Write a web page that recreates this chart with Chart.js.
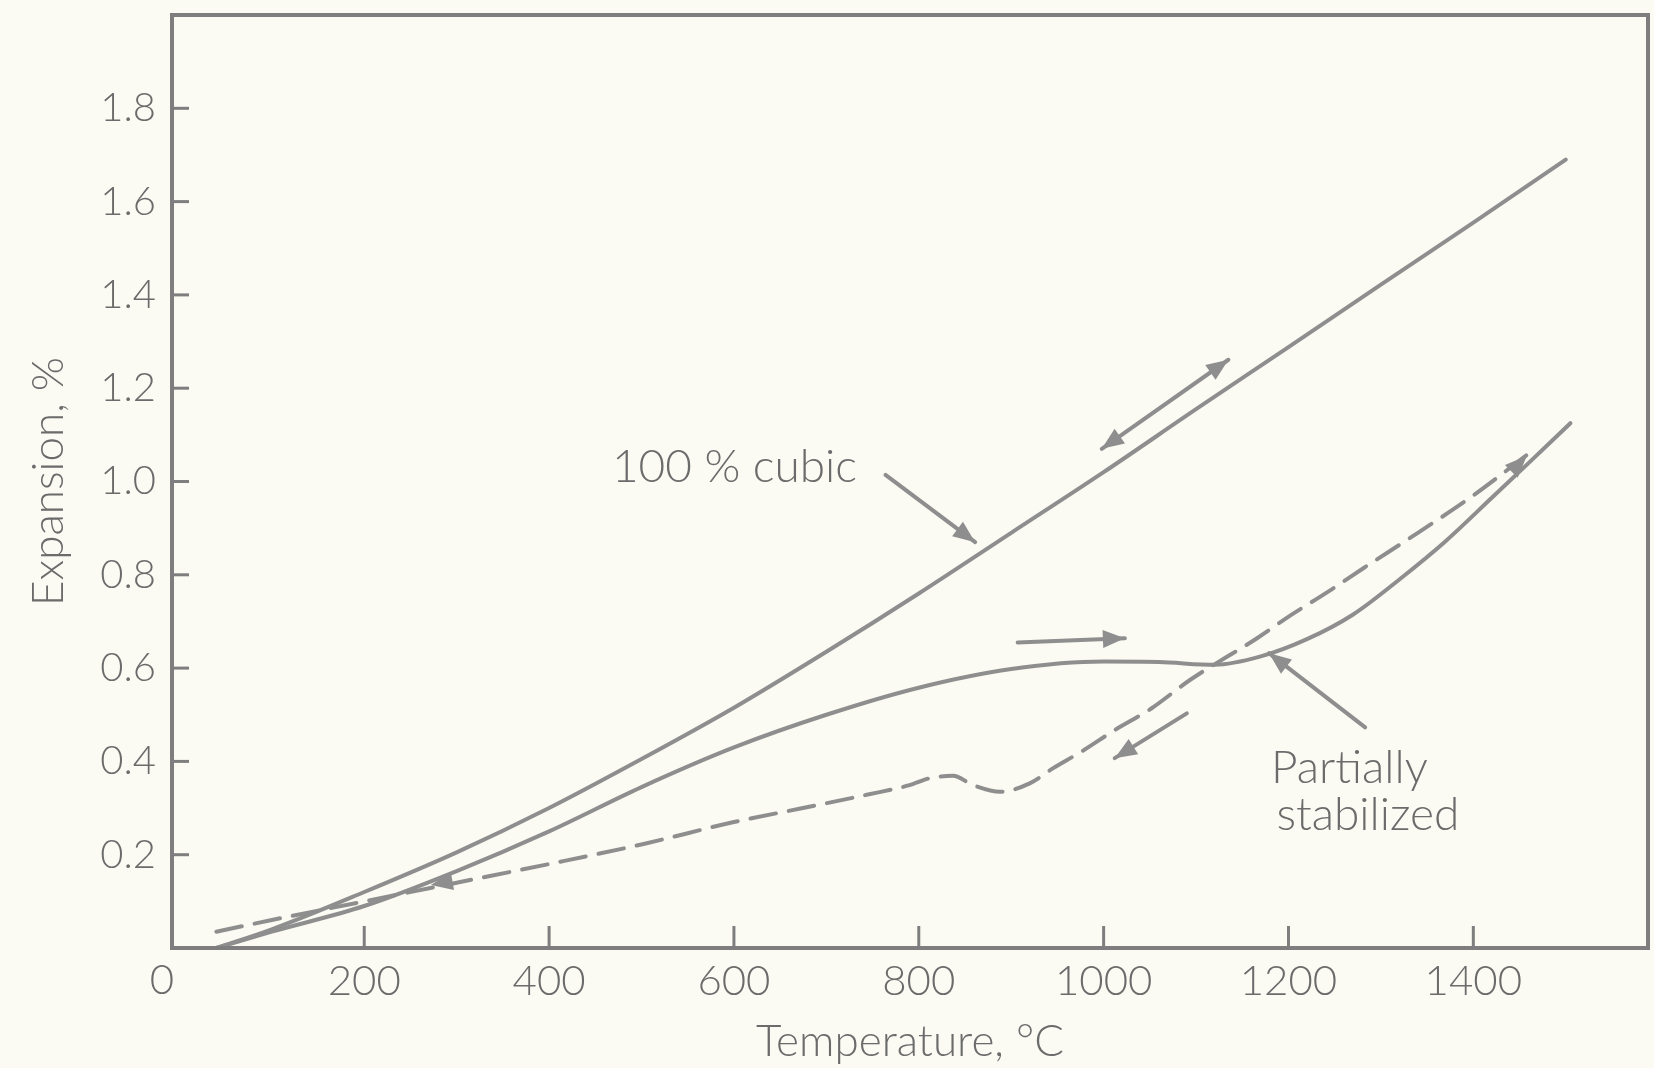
<!DOCTYPE html>
<html>
<head>
<meta charset="utf-8">
<style>
  html, body { margin: 0; padding: 0; background: #fbfbf4; }
  #wrap { width: 1654px; height: 1068px; position: relative; }
</style>
<script src="https://cdn.jsdelivr.net/npm/chart.js@4.4.1/dist/chart.umd.min.js"></script>
</head>
<body>
<div id="wrap"><canvas id="plot"></canvas></div>
<script>
// axis ticks
let xTicks = [200, 400, 600, 800, 1000, 1200, 1400];
let yTicks = [0.2, 0.4, 0.6, 0.8, 1.0, 1.2, 1.4, 1.6, 1.8];

// 100 % cubic (heating and cooling the same)
let cubicT = [40, 100, 200, 300, 400, 500, 600, 700, 800, 900, 1000, 1100, 1200, 1300, 1400, 1500];
let cubicE = [0.0, 0.04, 0.12, 0.205, 0.3, 0.405, 0.515, 0.635, 0.76, 0.89, 1.02, 1.155, 1.288, 1.422, 1.555, 1.69];

// partially stabilized, heating (solid)
let heatT = [40, 100, 200, 300, 400, 500, 600, 700, 800, 900, 1000, 1060, 1120, 1170, 1220, 1270, 1320, 1370, 1420, 1460, 1505];
let heatE = [0.0, 0.035, 0.09, 0.165, 0.25, 0.345, 0.43, 0.5, 0.558, 0.598, 0.614, 0.613, 0.607, 0.625, 0.662, 0.715, 0.79, 0.872, 0.965, 1.04, 1.125];

// partially stabilized, cooling (dashed)
let coolT = [40, 100, 200, 300, 400, 500, 600, 672, 745, 790, 812, 837, 859, 888, 920, 945, 976, 1012, 1052, 1093, 1166, 1203, 1243, 1281, 1340, 1400, 1460];
let coolE = [0.035, 0.06, 0.1, 0.14, 0.18, 0.222, 0.27, 0.299, 0.329, 0.349, 0.364, 0.369, 0.349, 0.335, 0.353, 0.385, 0.421, 0.467, 0.514, 0.574, 0.664, 0.714, 0.764, 0.814, 0.89, 0.97, 1.06];

// arrows: [t1, e1, t2, e2, heads] heads: 1 end, 2 both, 0 head only
let arrows = [
    [998, 1.07, 1135, 1.261, 2],
    [764, 1.014, 861, 0.87, 1],
    [907, 0.655, 1023, 0.664, 1],
    [1090, 0.503, 1012, 0.407, 1],
    [1283, 0.473, 1179, 0.632, 1],
    [1430, 1.0, 1458, 1.055, 0],
    [300, 0.145, 272, 0.135, 0]
];

// text labels: [text, t, e]
let notes = [
    ['100 % cubic', 468, 1.031],
    ['Partially', 1181, 0.386],
    ['stabilized', 1187, 0.285]
];

const INK = '#8e8e8e';
const TEXT = '#6b6b6b';
const FONT = "Lato, 'Open Sans', sans-serif";

function pts(t, e) {
    let out = [];
    for (let i = 0; i < t.length; i++) out.push({ x: t[i], y: e[i] });
    return out;
}

function arrowHead(ctx, x1, y1, x2, y2) {
    let a = Math.atan2(y2 - y1, x2 - x1);
    let len = 22, w = 9;
    ctx.beginPath();
    ctx.moveTo(x2, y2);
    ctx.lineTo(x2 - len * Math.cos(a) + w * Math.sin(a), y2 - len * Math.sin(a) - w * Math.cos(a));
    ctx.lineTo(x2 - len * Math.cos(a) - w * Math.sin(a), y2 - len * Math.sin(a) + w * Math.cos(a));
    ctx.closePath();
    ctx.fill();
}

const paper = {
    id: 'paper',
    beforeDraw(chart) {
        let ctx = chart.ctx;
        ctx.save();
        ctx.fillStyle = '#fbfbf4';
        ctx.fillRect(0, 0, chart.width, chart.height);
        ctx.restore();
    },
    afterDraw(chart) {
        let ctx = chart.ctx;
        let a = chart.chartArea;
        let xs = chart.scales.x, ys = chart.scales.y;
        ctx.save();
        // frame
        ctx.strokeStyle = '#7e7e7e';
        ctx.lineWidth = 4;
        ctx.strokeRect(a.left, a.top, a.right - a.left, a.bottom - a.top);
        // inward tick marks
        ctx.lineWidth = 3;
        xTicks.forEach(function(v) {
            let px = xs.getPixelForValue(v);
            ctx.beginPath(); ctx.moveTo(px, a.bottom); ctx.lineTo(px, a.bottom - 22); ctx.stroke();
        });
        yTicks.forEach(function(v) {
            let py = ys.getPixelForValue(v);
            ctx.beginPath(); ctx.moveTo(a.left, py); ctx.lineTo(a.left + 17, py); ctx.stroke();
        });
        // "0" at the corner
        ctx.fillStyle = TEXT;
        ctx.font = '300 42px ' + FONT;
        ctx.textAlign = 'center';
        ctx.textBaseline = 'middle';
        ctx.fillText('0', a.left - 10, a.bottom + 32);
        // arrows
        ctx.strokeStyle = INK;
        ctx.fillStyle = INK;
        ctx.lineWidth = 4;
        ctx.lineCap = 'round';
        arrows.forEach(function(r) {
            let x1 = xs.getPixelForValue(r[0]), y1 = ys.getPixelForValue(r[1]);
            let x2 = xs.getPixelForValue(r[2]), y2 = ys.getPixelForValue(r[3]);
            if (r[4] > 0) { ctx.beginPath(); ctx.moveTo(x1, y1); ctx.lineTo(x2, y2); ctx.stroke(); }
            arrowHead(ctx, x1, y1, x2, y2);
            if (r[4] === 2) arrowHead(ctx, x2, y2, x1, y1);
        });
        // labels
        ctx.fillStyle = TEXT;
        ctx.font = '300 46px ' + FONT;
        ctx.textAlign = 'left';
        notes.forEach(function(n) {
            ctx.fillText(n[0], xs.getPixelForValue(n[1]), ys.getPixelForValue(n[2]));
        });
        ctx.restore();
    }
};

const line = { borderColor: INK, borderWidth: 4, pointRadius: 0, cubicInterpolationMode: 'monotone', borderCapStyle: 'round', fill: false };

new Chart(document.getElementById('plot').getContext('2d'), {
    type: 'line',
    data: {
        datasets: [
            Object.assign({ label: '100 % cubic', data: pts(cubicT, cubicE) }, line),
            Object.assign({ label: 'Partially stabilized, heating', data: pts(heatT, heatE) }, line),
            Object.assign({ label: 'Partially stabilized, cooling', data: pts(coolT, coolE), borderDash: [26, 13] }, line)
        ]
    },
    options: {
        responsive: true,
        maintainAspectRatio: false,
        animation: false,
        layout: { padding: { top: 15, right: 6, left: 0, bottom: 0 } },
        plugins: { legend: { display: false }, tooltip: { enabled: false } },
        scales: {
            x: {
                type: 'linear',
                min: -8,
                max: 1589,
                afterFit: function(s) { s.height = 120; s.paddingLeft = 0; s.paddingRight = 0; },
                afterBuildTicks: function(s) { s.ticks = xTicks.map(function(v) { return { value: v }; }); },
                grid: { display: false, drawTicks: false },
                border: { display: false },
                ticks: { color: TEXT, padding: 8, font: { family: FONT, size: 42, weight: 300 }, maxRotation: 0,
                    callback: function(v) { return String(v); } },
                title: { display: true, text: 'Temperature, °C', color: TEXT, padding: 0, font: { family: FONT, size: 44, weight: 300 } }
            },
            y: {
                min: 0,
                max: 2.0,
                afterFit: function(s) { s.width = 172; s.paddingTop = 0; s.paddingBottom = 0; },
                afterBuildTicks: function(s) { s.ticks = yTicks.map(function(v) { return { value: v }; }); },
                grid: { display: false, drawTicks: false },
                border: { display: false },
                ticks: { color: TEXT, padding: 16, font: { family: FONT, size: 40, weight: 300 },
                    callback: function(v) { return v.toFixed(1); } },
                title: { display: true, text: 'Expansion, %', color: TEXT, padding: { top: 22, bottom: 0 }, font: { family: FONT, size: 44, weight: 300 } }
            }
        }
    },
    plugins: [paper]
});
</script>
</body>
</html>
